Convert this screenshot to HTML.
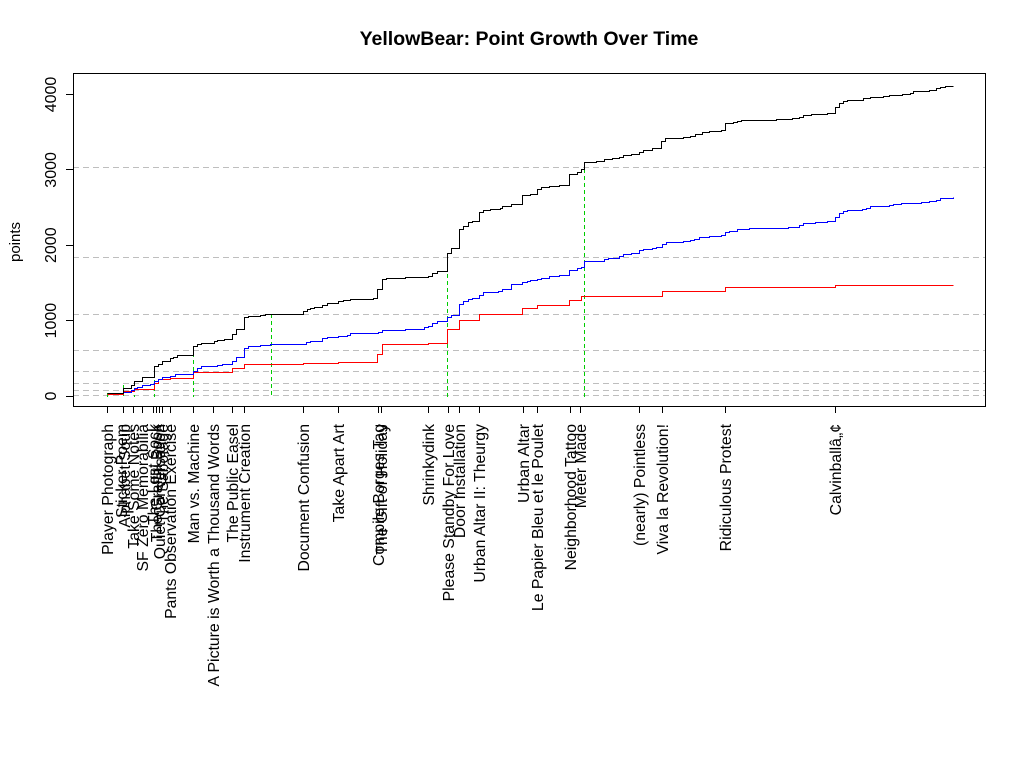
<!DOCTYPE html>
<html><head><meta charset="utf-8"><style>
body{margin:0;background:#fff}
svg{display:block;font-family:"Liberation Sans",Arial,sans-serif}
</style></head><body>
<svg width="1024" height="768" viewBox="0 0 1024 768" xmlns="http://www.w3.org/2000/svg">
<rect width="1024" height="768" fill="#fff"/>
<text x="529" y="45" font-size="19.5" font-weight="bold" text-anchor="middle">YellowBear: Point Growth Over Time</text>
<text transform="translate(20,242) rotate(-90)" font-size="15" text-anchor="middle">points</text>
<g stroke="#bebebe" stroke-dasharray="6,4" stroke-width="1" transform="translate(0,0.5)">
<line x1="73" y1="167" x2="986" y2="167"/>
<line x1="73" y1="257" x2="986" y2="257"/>
<line x1="73" y1="314" x2="986" y2="314"/>
<line x1="73" y1="350" x2="986" y2="350"/>
<line x1="73" y1="371" x2="986" y2="371"/>
<line x1="73" y1="383" x2="986" y2="383"/>
<line x1="73" y1="390" x2="986" y2="390"/>
<line x1="73" y1="395" x2="986" y2="395"/>
</g>
<g stroke="#00cc00" stroke-dasharray="4,3" stroke-width="1" transform="translate(0.5,0)">
<line x1="107" y1="393" x2="107" y2="397"/>
<line x1="123" y1="385" x2="123" y2="397"/>
<line x1="134" y1="381" x2="134" y2="397"/>
<line x1="154" y1="366" x2="154" y2="397"/>
<line x1="193" y1="346" x2="193" y2="397"/>
<line x1="271" y1="314" x2="271" y2="397"/>
<line x1="447" y1="253" x2="447" y2="397"/>
<line x1="584" y1="162" x2="584" y2="397"/>
</g>
<g fill="none" stroke-width="1" transform="translate(0.5,0.5)">
<path stroke="#ff0000" d="M107 394 H123 V391 H134 V389 H154 V383 H158 V379 H170 V378 H193 V372 H232 V368 H244 V364 H303 V363 H338 V362 H377 V354 H382 V344 H428 V343 H447 V329 H459 V320 H479 V314 H522 V308 H537 V305 H569 V300 H581 V296 H662 V291 H725 V287 H835 V285 H953"/>
<path stroke="#0000ff" d="M107 393 H123 V392 H131 V390 H134 V388 H137 V387 H142 V385 H150 V384 H154 V381 H158 V379 H162 V377 H170 V376 H175 V374 H193 V371 H197 V368 H201 V366 H217 V365 H222 V364 H232 V361 H236 V357 H244 V348 H248 V346 H260 V345 H270 V344 H306 V342 H310 V341 H322 V338 H327 V337 H338 V336 H347 V335 H350 V333 H378 V332 H382 V330 H405 V329 H424 V327 H428 V326 H432 V323 H437 V321 H447 V317 H451 V315 H459 V304 H463 V301 H468 V299 H472 V298 H479 V295 H483 V292 H498 V291 H502 V289 H511 V284 H522 V282 H527 V281 H530 V280 H537 V279 H541 V278 H549 V276 H559 V275 H569 V270 H577 V268 H581 V267 H584 V261 H604 V259 H608 V258 H619 V256 H623 V254 H631 V253 H639 V250 H643 V249 H652 V248 H656 V247 H662 V244 H666 V242 H683 V241 H690 V240 H694 V239 H699 V237 H709 V236 H721 V235 H725 V232 H729 V231 H737 V229 H749 V228 H788 V227 H799 V225 H803 V223 H815 V222 H827 V221 H835 V217 H839 V213 H843 V211 H847 V210 H862 V209 H866 V208 H870 V206 H889 V205 H893 V204 H901 V203 H921 V202 H929 V201 H936 V200 H940 V198 H953 V197"/>
<path stroke="#000" d="M107 393 H123 V388 H131 V385 H134 V381 H142 V377 H154 V366 H158 V364 H162 V361 H170 V358 H173 V357 H177 V355 H193 V346 H197 V344 H201 V343 H214 V341 H217 V340 H224 V339 H232 V334 H236 V329 H244 V317 H248 V316 H260 V315 H265 V314 H303 V311 H307 V309 H310 V308 H314 V307 H322 V305 H327 V303 H338 V301 H343 V300 H350 V299 H373 V298 H377 V289 H382 V279 H386 V278 H405 V277 H428 V276 H432 V273 H437 V271 H447 V253 H451 V248 H459 V229 H463 V226 H468 V222 H472 V221 H479 V212 H483 V210 H490 V209 H500 V208 H502 V206 H511 V204 H522 V195 H530 V194 H537 V189 H541 V187 H549 V186 H559 V185 H569 V174 H577 V172 H581 V169 H584 V162 H596 V161 H604 V159 H612 V158 H619 V157 H623 V155 H631 V154 H639 V152 H643 V150 H652 V148 H661 V141 H665 V138 H683 V137 H690 V136 H695 V134 H702 V132 H709 V131 H721 V130 H725 V123 H733 V122 H737 V121 H741 V120 H776 V119 H792 V118 H799 V117 H803 V115 H811 V114 H827 V113 H835 V107 H839 V103 H843 V101 H847 V100 H863 V98 H870 V97 H883 V96 H889 V95 H902 V94 H910 V93 H913 V91 H929 V90 H936 V88 H940 V87 H945 V86 H953"/>
</g>
<rect x="73.5" y="73.5" width="912" height="333" fill="none" stroke="#000" stroke-width="1"/>
<g stroke="#000" stroke-width="1">
<line x1="66" y1="396.5" x2="73" y2="396.5"/>
<line x1="66" y1="320.5" x2="73" y2="320.5"/>
<line x1="66" y1="245.5" x2="73" y2="245.5"/>
<line x1="66" y1="169.5" x2="73" y2="169.5"/>
<line x1="66" y1="94.5" x2="73" y2="94.5"/>
</g>
<g font-size="16" text-anchor="middle">
<text transform="translate(56,396) rotate(-90)">0</text>
<text transform="translate(56,320.6) rotate(-90)">1000</text>
<text transform="translate(56,245.2) rotate(-90)">2000</text>
<text transform="translate(56,169.9) rotate(-90)">3000</text>
<text transform="translate(56,94.5) rotate(-90)">4000</text>
</g>
<g stroke="#000" stroke-width="1">
<line x1="107.5" y1="406" x2="107.5" y2="413"/><line x1="123.5" y1="406" x2="123.5" y2="413"/><line x1="133.5" y1="406" x2="133.5" y2="413"/><line x1="142.5" y1="406" x2="142.5" y2="413"/><line x1="153.5" y1="406" x2="153.5" y2="413"/><line x1="156.5" y1="406" x2="156.5" y2="413"/><line x1="159.5" y1="406" x2="159.5" y2="413"/><line x1="162.5" y1="406" x2="162.5" y2="413"/><line x1="170.5" y1="406" x2="170.5" y2="413"/><line x1="193.5" y1="406" x2="193.5" y2="413"/><line x1="213.5" y1="406" x2="213.5" y2="413"/><line x1="232.5" y1="406" x2="232.5" y2="413"/><line x1="244.5" y1="406" x2="244.5" y2="413"/><line x1="303.5" y1="406" x2="303.5" y2="413"/><line x1="338.5" y1="406" x2="338.5" y2="413"/><line x1="378.5" y1="406" x2="378.5" y2="413"/><line x1="381.5" y1="406" x2="381.5" y2="413"/><line x1="428.5" y1="406" x2="428.5" y2="413"/><line x1="448.5" y1="406" x2="448.5" y2="413"/><line x1="459.5" y1="406" x2="459.5" y2="413"/><line x1="479.5" y1="406" x2="479.5" y2="413"/><line x1="523.5" y1="406" x2="523.5" y2="413"/><line x1="537.5" y1="406" x2="537.5" y2="413"/><line x1="570.5" y1="406" x2="570.5" y2="413"/><line x1="580.5" y1="406" x2="580.5" y2="413"/><line x1="639.5" y1="406" x2="639.5" y2="413"/><line x1="662.5" y1="406" x2="662.5" y2="413"/><line x1="725.5" y1="406" x2="725.5" y2="413"/><line x1="835.5" y1="406" x2="835.5" y2="413"/>
</g>
<g font-size="15.8" text-anchor="end">
<text transform="translate(113,424) rotate(-90)">Player Photograph</text>
<text transform="translate(127,424) rotate(-90)">Sticker Poem</text>
<text transform="translate(130,424) rotate(-90)">Alphabet Soup</text>
<text transform="translate(139,424) rotate(-90)">Take Some Notes</text>
<text transform="translate(148,424) rotate(-90)">SF Zero Memorabilia</text>
<text transform="translate(159,424) rotate(-90)">The Lost Sock</text>
<text transform="translate(162,424) rotate(-90)">The Graffiti Book</text>
<text transform="translate(165,424) rotate(-90)">Quiet Conversation</text>
<text transform="translate(168,424) rotate(-90)">The Sabotage</text>
<text transform="translate(176,424) rotate(-90)">Pants Observation Exercise</text>
<text transform="translate(199,424) rotate(-90)">Man vs. Machine</text>
<text transform="translate(219,424) rotate(-90)">A Picture is Worth a Thousand Words</text>
<text transform="translate(238,424) rotate(-90)">The Public Easel</text>
<text transform="translate(250,424) rotate(-90)">Instrument Creation</text>
<text transform="translate(309,424) rotate(-90)">Document Confusion</text>
<text transform="translate(344,424) rotate(-90)">Take Apart Art</text>
<text transform="translate(384,424) rotate(-90)">Compile Borges Tag</text>
<text transform="translate(387,424) rotate(-90)">The Gift of Holiday</text>
<text transform="translate(434,424) rotate(-90)">Shrinkydink</text>
<text transform="translate(454,424) rotate(-90)">Please Standby For Love</text>
<text transform="translate(465,424) rotate(-90)">Door Installation</text>
<text transform="translate(485,424) rotate(-90)">Urban Altar II: Theurgy</text>
<text transform="translate(529,424) rotate(-90)">Urban Altar</text>
<text transform="translate(543,424) rotate(-90)">Le Papier Bleu et le Poulet</text>
<text transform="translate(576,424) rotate(-90)">Neighborhood Tattoo</text>
<text transform="translate(586,424) rotate(-90)">Meter Made</text>
<text transform="translate(645,424) rotate(-90)">(nearly) Pointless</text>
<text transform="translate(668,424) rotate(-90)">Viva la Revolution!</text>
<text transform="translate(731,424) rotate(-90)">Ridiculous Protest</text>
<text transform="translate(841,424) rotate(-90)">Calvinballâ„¢</text>
</g>
</svg>
</body></html>
